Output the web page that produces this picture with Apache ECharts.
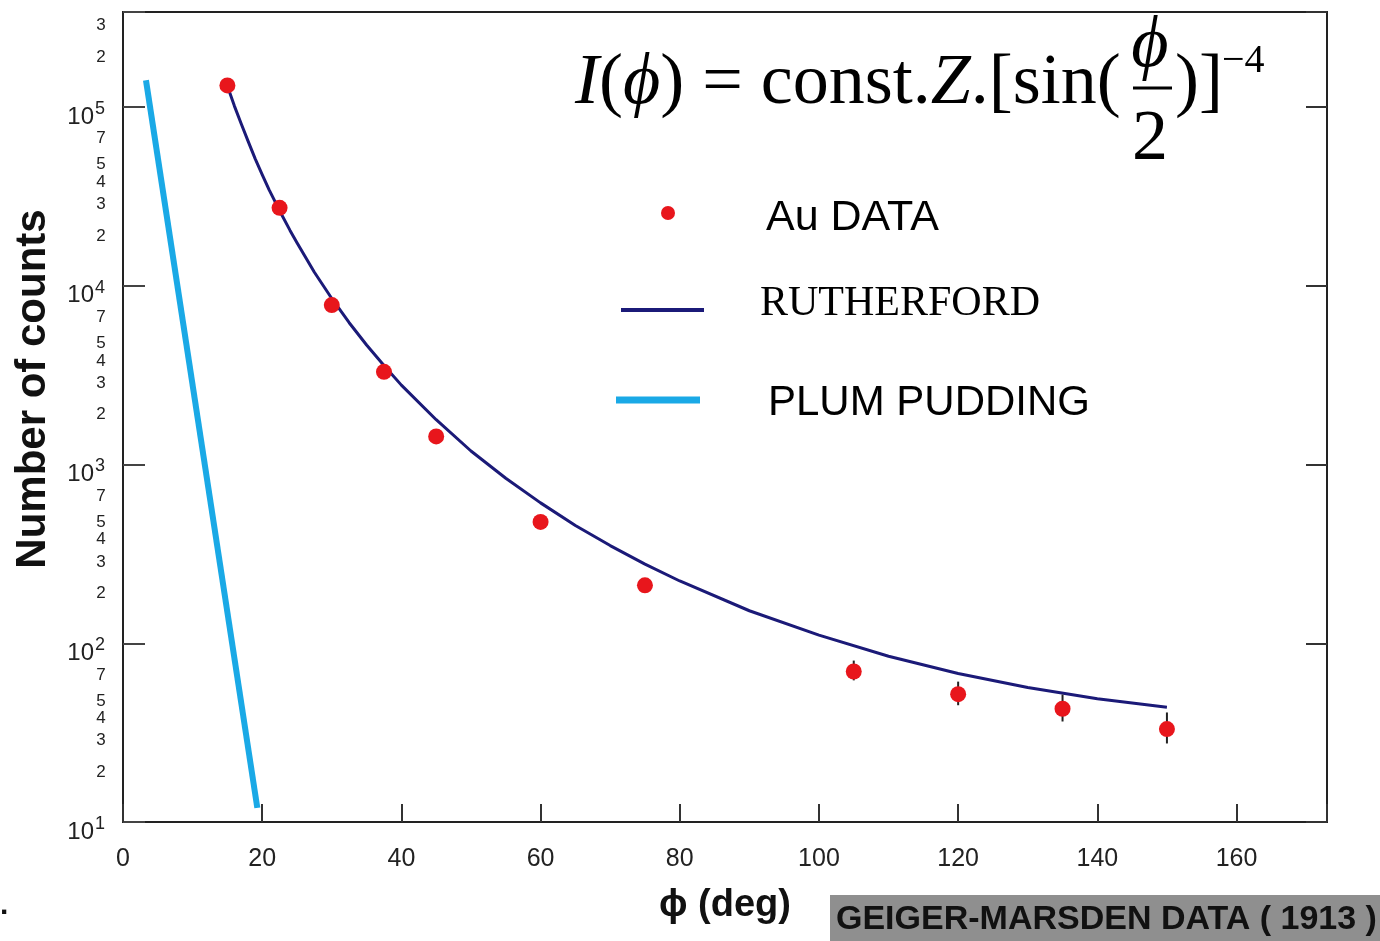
<!DOCTYPE html>
<html><head><meta charset="utf-8">
<script src="https://cdn.jsdelivr.net/npm/echarts@6/dist/echarts.min.js"></script>
<style>html,body{margin:0;padding:0;background:#fff}#c{width:1380px;height:941px}</style>
</head><body><div id="c"></div>
<script>
// ---- data ----
const auAngles = [15, 22.5, 30, 37.5, 45, 60, 75, 105, 120, 135, 150];
const auCounts = [132000, 27300, 7800, 3300, 1435, 477, 211, 69.5, 51.9, 43.0, 33.1];
const errAngles = [105, 120, 135, 150];
const errLow = [62, 45, 36.5, 27.5];
const errHigh = [80, 61, 51.6, 41];
const rutherfordAngles = [15, 16, 17, 18, 19, 20, 21, 22.5, 24, 25, 27.5, 30, 32.5, 35, 37.5, 40, 45, 50, 55, 60, 65, 70, 75, 80, 90, 100, 110, 120, 130, 140, 150];
const rutherfordCounts = [131000, 101500, 80300, 64000, 51300, 41900, 34400, 26300, 20400, 17400, 11900, 8490, 6210, 4660, 3580, 2780, 1780, 1190, 838, 610, 456, 352, 277, 223, 152, 111, 84.6, 67.7, 56.5, 48.9, 43.8];
const plumAngles = [3.3, 19.3];
const plumCounts = [141000, 12.0];
const xTickLabels = [0, 20, 40, 60, 80, 100, 120, 140, 160];
const yDecades = [10, 100, 1000, 10000, 100000];
const yDecadeExponents = ['1', '2', '3', '4', '5'];
const yMinorDigits = [2, 3, 4, 5, 7];
const X_MIN = 0, X_MAX = 173, Y_MIN = 10, Y_MAX = 340000;

const SANS = '"Liberation Sans", Arial, sans-serif';
const SERIF = '"Liberation Serif", "Times New Roman", serif';

const pair = (xs, ys) => xs.map((x, i) => [x, ys[i]]);

// y tick label items (major decades + minor digit labels)
const yLabelItems = [];
yDecades.forEach((d, i) => {
  yLabelItems.push({ value: [0, d], kind: 'major', sup: yDecadeExponents[i] });
  yMinorDigits.forEach(m => {
    if (m * d <= Y_MAX) yLabelItems.push({ value: [0, m * d], kind: 'minor', text: String(m) });
  });
});

function txt(x, y, text, font, fill, align, extra) {
  return Object.assign({
    type: 'text', x: x, y: y, silent: true,
    style: { text: text, font: font, fill: fill || '#111', align: align || 'left', textAlign: align || 'left',
             verticalAlign: 'middle', textVerticalAlign: 'middle' }
  }, extra || {});
}

const chart = echarts.init(document.getElementById('c'), null, { renderer: 'canvas' });
chart.setOption({
  animation: false,
  backgroundColor: '#ffffff',
  grid: { left: 123, right: 53, top: 12, bottom: 119, show: true, borderColor: '#222', borderWidth: 2, backgroundColor: 'transparent' },
  xAxis: {
    type: 'value', min: X_MIN, max: X_MAX, interval: 20,
    name: 'ϕ (deg)', nameLocation: 'middle', nameGap: 84,
    nameTextStyle: { fontFamily: SANS, fontSize: 38, fontWeight: 'bold', color: '#111', verticalAlign: 'middle' },
    axisLine: { show: true, lineStyle: { color: '#222', width: 2 } },
    axisTick: { show: true, inside: true, length: 18, lineStyle: { color: '#333', width: 2 } },
    axisLabel: { show: true, margin: 25, fontFamily: SANS, fontSize: 25, color: '#222',
      formatter: v => (xTickLabels.indexOf(v) >= 0 ? String(v) : '') },
    splitLine: { show: false }
  },
  yAxis: [{
    type: 'log', logBase: 10, min: Y_MIN, max: Y_MAX, position: 'left',
    axisLine: { show: true, lineStyle: { color: '#222', width: 2 } },
    axisTick: { show: true, inside: true, length: 22, lineStyle: { color: '#444', width: 2 } },
    axisLabel: { show: false },
    splitLine: { show: false }
  }, {
    type: 'log', logBase: 10, min: Y_MIN, max: Y_MAX, position: 'right',
    axisLine: { show: false },
    axisTick: { show: true, inside: true, length: 21, lineStyle: { color: '#333', width: 2 } },
    axisLabel: { show: false },
    splitLine: { show: false }
  }],
  series: [
    {
      name: 'PLUM PUDDING', type: 'line', data: pair(plumAngles, plumCounts),
      showSymbol: false, lineStyle: { color: '#1aa9e6', width: 6 }, z: 3
    },
    {
      name: 'RUTHERFORD', type: 'line', data: pair(rutherfordAngles, rutherfordCounts),
      showSymbol: false, smooth: false, lineStyle: { color: '#1b1a78', width: 3, join: 'round' }, z: 4
    },
    {
      name: 'errors', type: 'custom', z: 5, clip: false,
      data: errAngles.map((x, i) => [x, errLow[i], errHigh[i]]),
      renderItem: function (params, api) {
        const a = api.coord([api.value(0), api.value(1)]);
        const b = api.coord([api.value(0), api.value(2)]);
        return { type: 'line', shape: { x1: a[0], y1: a[1], x2: b[0], y2: b[1] }, style: { stroke: '#222', lineWidth: 2 } };
      }
    },
    {
      name: 'Au DATA', type: 'scatter', data: pair(auAngles, auCounts),
      symbol: 'circle', symbolSize: 16, itemStyle: { color: '#e8161c', opacity: 1 }, z: 6
    },
    {
      name: 'yLabels', type: 'custom', z: 7, clip: false, silent: true,
      data: yLabelItems.map(it => it.value),
      renderItem: function (params, api) {
        const it = yLabelItems[params.dataIndex];
        const p = api.coord(it.value);
        if (it.kind === 'major') {
          return { type: 'group', children: [
            txt(p[0] - 29, p[1] + 10, '10', '24px ' + SANS, '#222', 'right'),
            txt(p[0] - 28, p[1] + 2, it.sup, '18px ' + SANS, '#222', 'left')
          ] };
        }
        return txt(p[0] - 22, p[1] + 4, it.text, '17px ' + SANS, '#222', 'center');
      }
    }
  ],
  graphic: [
    // y-axis title
    txt(33, 389, 'Number of counts', 'bold 42px ' + SANS, '#111', 'center', { rotation: Math.PI / 2 }),
    // formula
    {
      type: 'text', x: 575, y: 84, silent: true,
      style: {
        text: '{it|I}(' + '{it|ϕ}) = const.{it|Z}.[sin(',
        font: '72px ' + SERIF, fill: '#000', verticalAlign: 'middle', textVerticalAlign: 'middle',
        rich: { it: { font: 'italic 72px ' + SERIF, fill: '#000' } }
      }
    },
    txt(1150, 47, 'ϕ', 'italic 72px ' + SERIF, '#000', 'center'),
    { type: 'line', silent: true, shape: { x1: 1133, y1: 88, x2: 1172, y2: 88 }, style: { stroke: '#000', lineWidth: 3 } },
    txt(1150, 140, '2', '72px ' + SERIF, '#000', 'center'),
    txt(1175, 84, ')]', '72px ' + SERIF, '#000', 'left'),
    txt(1222, 61, '−4', '40px ' + SERIF, '#000', 'left'),
    // legend
    { type: 'circle', silent: true, shape: { cx: 668, cy: 213, r: 7 }, style: { fill: '#e8161c' } },
    txt(766, 218, 'Au DATA', '43px ' + SANS, '#000', 'left'),
    { type: 'line', silent: true, shape: { x1: 621, y1: 310, x2: 704, y2: 310 }, style: { stroke: '#1b1a78', lineWidth: 4 } },
    txt(760, 304, 'RUTHERFORD', '42px ' + SERIF, '#000', 'left'),
    { type: 'line', silent: true, shape: { x1: 616, y1: 400, x2: 700, y2: 400 }, style: { stroke: '#1aa9e6', lineWidth: 7 } },
    txt(768, 403, 'PLUM PUDDING', '42px ' + SANS, '#000', 'left'),
    // source box
    { type: 'rect', silent: true, shape: { x: 830, y: 895, width: 550, height: 46 }, style: { fill: '#8f8f8f' } },
    txt(836, 920, 'GEIGER-MARSDEN DATA ( 1913 )', 'bold 34px ' + SANS, '#111', 'left'),
    txt(0, 906, '.', 'bold 30px ' + SANS, '#111', 'left')
  ]
});
</script>
</body></html>
